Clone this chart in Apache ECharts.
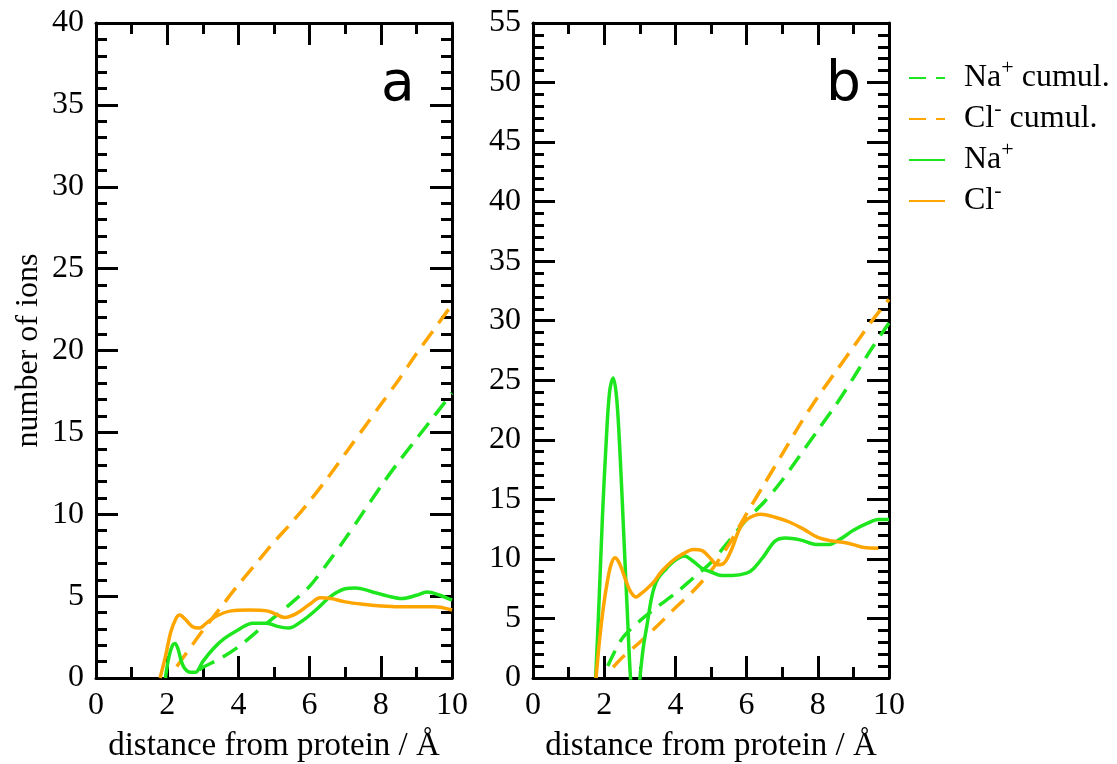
<!DOCTYPE html>
<html>
<head>
<meta charset="utf-8">
<script src="https://cdn.jsdelivr.net/npm/echarts@6/dist/echarts.min.js"></script>
<style>
  html, body { margin: 0; padding: 0; background: #fff; }
  #chart { width: 1117px; height: 764px; }
</style>
</head>
<body>
<div id="chart"></div>
<script>
// 离子分布（a、b 两个面板）

const SERIF = '"Liberation Serif", "Times New Roman", serif';
const GREEN = '#1ee61e';
const ORANGE = '#ffa500';

const seriesNames = ['Na+ cumul.', 'Cl- cumul.', 'Na+', 'Cl-'];
const panelLabels = ['a', 'b'];
const yMax = [40, 55];

// 面板 a: [距离, 离子数]
const aNaCum = [[2.9,0.5],[3.0,0.65],[3.5,1.2],[4.0,1.9],[4.5,2.8],[5.0,3.7],[5.5,4.6],[6.0,5.6],[6.5,7.0],[7.0,8.5],[7.5,10.1],[8.0,11.7],[8.5,13.2],[9.0,14.6],[9.5,16.0],[10.0,17.4]];
const aClCum = [[2.27,0.7],[2.5,1.4],[3.0,2.9],[3.5,4.3],[4.0,5.7],[4.5,7.0],[5.0,8.3],[5.5,9.5],[6.0,10.8],[6.5,12.2],[7.0,13.7],[7.5,15.2],[8.0,16.7],[8.5,18.2],[9.0,19.8],[9.5,21.3],[10.0,22.8]];
const aNa = [[1.95,0],[2.05,1.3],[2.15,2.0],[2.22,2.1],[2.3,1.8],[2.4,1.0],[2.5,0.55],[2.65,0.35],[2.8,0.35],[2.9,0.6],[3.0,1.0],[3.3,1.8],[3.6,2.4],[4.0,2.95],[4.4,3.35],[4.8,3.35],[5.1,3.15],[5.4,3.05],[5.8,3.5],[6.2,4.2],[6.6,5.0],[7.0,5.45],[7.3,5.5],[7.7,5.3],[8.2,5.0],[8.6,4.85],[9.0,5.05],[9.3,5.25],[9.6,5.1],[10.0,4.75]];
const aCl = [[1.8,0],[1.95,1.3],[2.1,2.8],[2.25,3.65],[2.35,3.85],[2.5,3.6],[2.7,3.15],[2.9,3.05],[3.1,3.35],[3.4,3.8],[3.8,4.1],[4.3,4.15],[4.8,4.1],[5.0,3.95],[5.3,3.7],[5.6,3.9],[6.0,4.5],[6.3,4.9],[6.6,4.85],[7.0,4.65],[7.5,4.5],[8.0,4.4],[8.5,4.35],[9.0,4.35],[9.5,4.35],[10.0,4.15]];

// 面板 b
const bNaCum = [[2.1,1.0],[2.5,3.3],[3.0,4.8],[3.5,6.0],[4.0,7.1],[4.5,8.4],[5.0,9.7],[5.5,11.5],[6.0,13.3],[6.5,14.8],[7.0,16.6],[7.5,18.7],[8.0,20.8],[8.5,22.9],[9.0,25.2],[9.5,27.6],[10.0,29.8]];
const bClCum = [[2.25,0.9],[2.5,1.7],[3.0,3.0],[3.5,4.4],[4.0,5.9],[4.5,7.3],[5.0,9.0],[5.5,11.2],[6.0,13.8],[6.5,16.3],[7.0,18.8],[7.5,21.3],[8.0,23.6],[8.5,25.7],[9.0,27.8],[9.5,29.9],[10.0,31.8]];
const bNa = [[1.76,0],[1.85,6],[1.95,13.5],[2.05,19.5],[2.15,24],[2.25,25.2],[2.35,23.5],[2.45,18.5],[2.55,12],[2.65,5.5],[2.75,-0.5],[2.85,-3],[2.95,-1.5],[3.02,0.5],[3.1,2.6],[3.2,4.4],[3.35,7.0],[3.5,8.3],[3.75,9.2],[4.0,9.9],[4.25,10.25],[4.5,9.8],[4.75,9.2],[5.0,8.9],[5.3,8.6],[5.6,8.6],[6.0,8.8],[6.2,9.2],[6.5,10.3],[6.8,11.5],[7.1,11.75],[7.5,11.6],[8.0,11.2],[8.3,11.2],[8.6,11.6],[9.0,12.4],[9.4,13.0],[9.7,13.3],[10.0,13.3]];
const bCl = [[1.77,0],[1.87,3.2],[1.98,6.0],[2.1,8.3],[2.2,9.6],[2.3,10.1],[2.4,9.8],[2.5,9.1],[2.63,8.0],[2.75,7.2],[2.9,6.8],[3.0,7.0],[3.2,7.5],[3.4,8.1],[3.6,8.9],[3.9,9.8],[4.2,10.4],[4.5,10.8],[4.75,10.7],[5.0,10.0],[5.17,9.5],[5.35,9.6],[5.55,10.6],[5.8,12.5],[6.0,13.3],[6.4,13.75],[6.8,13.5],[7.2,13.1],[7.6,12.5],[8.0,11.8],[8.4,11.5],[8.7,11.4],[9.0,11.2],[9.3,10.95],[9.7,10.9]];

const panelData = [
  [aNaCum, aClCum, aNa, aCl],
  [bNaCum, bClCum, bNa, bCl]
];

const grids = [
  { left: 96, top: 23, width: 356, height: 655, outerBoundsMode: 'none' },
  { left: 533, top: 23, width: 356, height: 655, outerBoundsMode: 'none' }
];

const tickStyle = { color: '#000', width: 3 };
const lineAxis = { show: true, onZero: false, lineStyle: { color: '#000', width: 3 } };

function xAxisFor(i, pos) {
  const bottom = pos === 'bottom';
  return {
    type: 'value', gridIndex: i, position: pos,
    min: 0, max: 10, interval: 2,
    axisLine: lineAxis,
    axisTick: { show: true, inside: true, length: 22, lineStyle: tickStyle },
    minorTick: { show: true, splitNumber: 2, length: 11, lineStyle: tickStyle },
    axisLabel: bottom
      ? { show: true, color: '#000', fontFamily: SERIF, fontSize: 32, margin: 12 }
      : { show: false },
    splitLine: { show: false },
    name: bottom ? 'distance from protein / Å' : '',
    nameLocation: 'middle', nameGap: 52,
    nameTextStyle: { color: '#000', fontFamily: SERIF, fontSize: 33 }
  };
}

function yAxisFor(i, pos) {
  const left = pos === 'left';
  return {
    type: 'value', gridIndex: i, position: pos,
    min: 0, max: yMax[i], interval: 5,
    axisLine: lineAxis,
    axisTick: { show: true, inside: true, length: 22, lineStyle: tickStyle },
    minorTick: { show: true, splitNumber: 5, length: 11, lineStyle: tickStyle },
    axisLabel: left
      ? { show: true, color: '#000', fontFamily: SERIF, fontSize: 32, margin: 12 }
      : { show: false },
    splitLine: { show: false },
    name: left && i === 0 ? 'number of ions' : '',
    nameLocation: 'middle', nameGap: 51,
    nameTextStyle: { color: '#000', fontFamily: SERIF, fontSize: 32 }
  };
}

const xAxes = [], yAxes = [];
grids.forEach((g, i) => {
  xAxes.push(xAxisFor(i, 'bottom'), xAxisFor(i, 'top'));
  yAxes.push(yAxisFor(i, 'left'), yAxisFor(i, 'right'));
});

const colors = [GREEN, ORANGE, GREEN, ORANGE];
const series = [];
panelData.forEach((sets, p) => {
  sets.forEach((pts, k) => {
    series.push({
      name: seriesNames[k],
      type: 'line',
      xAxisIndex: p * 2,
      yAxisIndex: p * 2,
      data: pts,
      symbol: 'none',
      smooth: k < 2 ? 0.3 : 0.35,
      clip: true,
      color: colors[k],
      lineStyle: { color: colors[k], width: 3.5, type: k < 2 ? [17, 10] : 'solid' },
      z: 5
    });
  });
});

function legendText(name) {
  const base = name.replace(/[+-].*$/, '');
  const sup = name.includes('+') ? '+' : '-';
  const rest = name.replace(/^[^+-]*[+-]/, '');
  return '{t|' + base + '}{s|' + sup + '}' + (rest ? '{t|' + rest + '}' : '');
}

const chart = echarts.init(document.getElementById('chart'), null, { renderer: 'canvas' });
chart.setOption({
  backgroundColor: '#fff',
  animation: false,
  grid: grids,
  xAxis: xAxes,
  yAxis: yAxes,
  legend: {
    data: seriesNames,
    orient: 'vertical',
    left: 903, top: 52,
    itemWidth: 36, itemHeight: 14, itemGap: 4,
    itemStyle: { opacity: 0 },
    formatter: legendText,
    textStyle: {
      color: '#000',
      padding: [0, 0, 0, 14],
      rich: {
        t: { fontFamily: SERIF, fontSize: 32, color: '#000', lineHeight: 42 },
        s: { fontFamily: SERIF, fontSize: 22, color: '#000', lineHeight: 22, verticalAlign: 'top' }
      }
    }
  },
  graphic: panelLabels.map((t, i) => ({
    type: 'text',
    left: i === 0 ? 381 : 826,
    top: 58,
    style: { text: t, fontFamily: '"DejaVu Sans", sans-serif', fontSize: 55, fill: '#000' }
  })),
  series: series
});
</script>
</body>
</html>
